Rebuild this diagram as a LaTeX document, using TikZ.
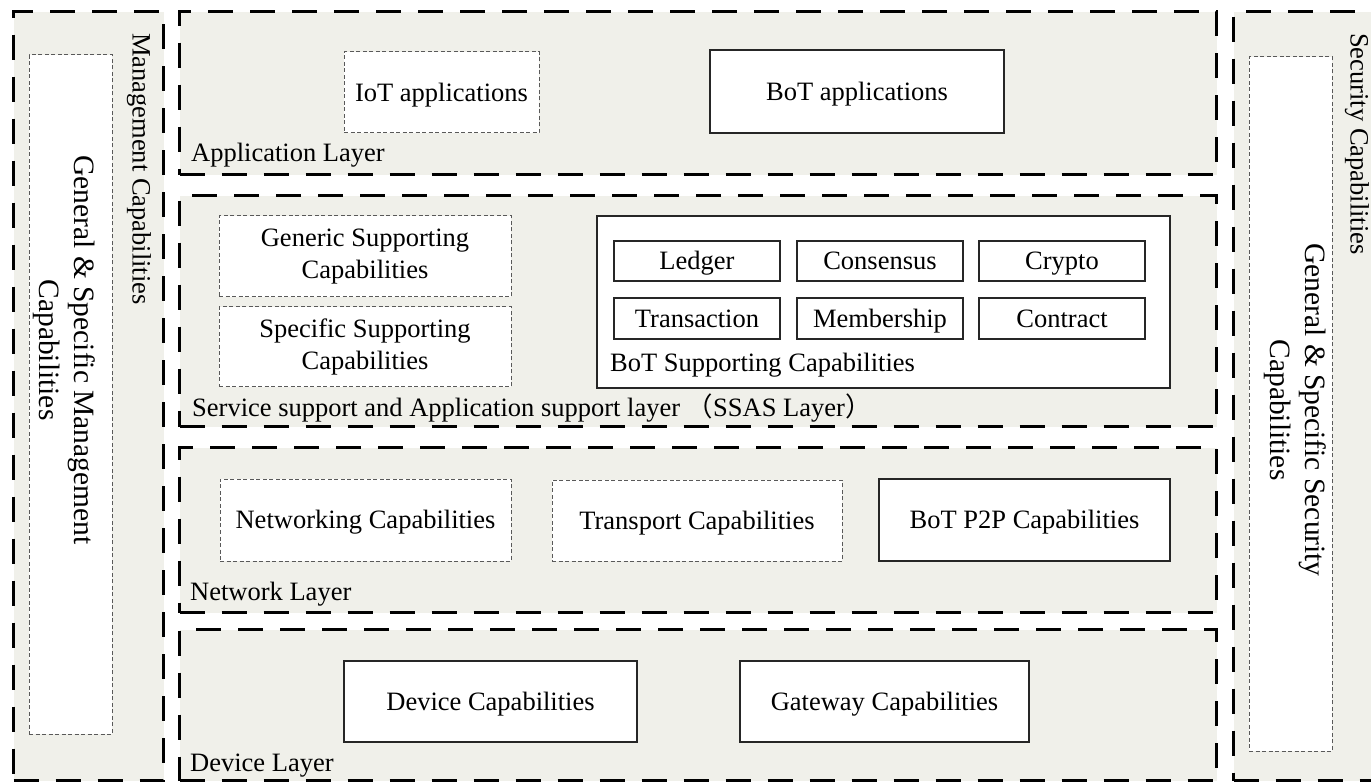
\documentclass[tikz,border=0pt]{standalone}
\usepackage{fontspec}
\setmainfont{Liberation Serif}
\newfontfamily\cjk{Noto Sans CJK SC}
\definecolor{layerfill}{RGB}{240,240,234}
\newcommand\dfont{\fontsize{26.5}{32}\selectfont}
\begin{document}
\begin{tikzpicture}[x=1pt,y=-1pt,
  layerbox/.style={draw=black, line width=3.2pt, dash pattern=on 25pt off 17pt, fill=layerfill, rectangle, inner sep=0pt, anchor=north west},
  dbox/.style={draw=black!65, line width=1pt, dash pattern=on 4pt off 2.5pt, fill=white, rectangle, inner sep=0pt, align=center, font=\dfont},
  sbox/.style={draw=black!85, line width=1.3pt, fill=white, rectangle, inner sep=0pt, align=center, font=\dfont},
  one/.style={text height=22pt, text depth=4.4pt},
  lbl/.style={anchor=base west, inner sep=0pt, font=\dfont},
  vlbl/.style={rotate=-90, anchor=west, inner sep=0pt, font=\dfont},
  vtxt/.style={rotate=-90, align=center, inner sep=0pt, font=\fontsize{29.5}{35}\selectfont},
]
\useasboundingbox (0,0) rectangle (1371,783);
\fill[white] (0,0) rectangle (1371,783);
\clip (0,0) rectangle (1371,783);

% side columns
\node[layerbox, minimum width=150, minimum height=769] (mgmt) at (12,10) {};
\node[layerbox, minimum width=180, minimum height=769] (sec) at (1232,10) {};
% layers
\node[layerbox, minimum width=1037, minimum height=163] (app) at (178,10) {};
\node[layerbox, minimum width=1037, minimum height=231] (ssas) at (178,194) {};
\node[layerbox, minimum width=1037, minimum height=165] (net) at (178,446) {};
\node[layerbox, minimum width=1037, minimum height=151] (dev) at (178,628) {};

% side inner boxes
\node[dbox, minimum width=83, minimum height=679] (mgmtin) at (70.5,394.5) {};
\node[dbox, minimum width=83, minimum height=694] (secin) at (1290.5,404) {};
\node[vtxt] (mgmttxt) at (64,350) {General \& Specific Management\\Capabilities};
\node[vtxt] (sectxt) at (1295,410) {General \& Specific Security\\Capabilities};
\node[vlbl] (mgmtlbl) at (139,33) {Management Capabilities};
\node[vlbl] (seclbl) at (1357,33) {Security Capabilities};

% application layer
\node[dbox, one, minimum width=195, minimum height=81] (iot) at (441.5,92.5) {IoT applications};
\node[sbox, one, minimum width=294, minimum height=83] (botapp) at (857,91.5) {BoT applications};
\node[lbl] (applbl) at (191,162) {Application Layer};

% SSAS layer
\node[dbox, minimum width=292, minimum height=81] (generic) at (365,256.5) {Generic Supporting\\Capabilities};
\node[dbox, minimum width=292, minimum height=80] (specific) at (365,347) {Specific Supporting\\Capabilities};
\node[sbox, minimum width=573, minimum height=172] (botsup) at (883.5,302) {};
\node[sbox, one, minimum width=166, minimum height=40] (ledger) at (697,261) {Ledger};
\node[sbox, one, minimum width=166, minimum height=40] (consensus) at (880,261) {Consensus};
\node[sbox, one, minimum width=166, minimum height=40] (crypto) at (1062,261) {Crypto};
\node[sbox, one, minimum width=166, minimum height=41] (transaction) at (697,318.5) {Transaction};
\node[sbox, one, minimum width=166, minimum height=41] (membership) at (880,318.5) {Membership};
\node[sbox, one, minimum width=166, minimum height=41] (contract) at (1062,318.5) {Contract};
\node[lbl] (botsuplbl) at (610,372) {BoT Supporting Capabilities};
\node[lbl] (ssaslbl) at (192,417) {Service support and Application support layer {\cjk（}SSAS Layer{\cjk）}};

% network layer
\node[dbox, one, minimum width=291, minimum height=82] (networking) at (365.5,520) {Networking Capabilities};
\node[dbox, one, minimum width=290, minimum height=81] (transport) at (697,520.5) {Transport Capabilities};
\node[sbox, one, minimum width=291, minimum height=82] (p2p) at (1024.5,520) {BoT P2P Capabilities};
\node[lbl] (netlbl) at (190,600) {Network Layer};

% device layer
\node[sbox, one, minimum width=293, minimum height=81] (device) at (490.5,701.5) {Device Capabilities};
\node[sbox, one, minimum width=289, minimum height=81] (gateway) at (884.5,701.5) {Gateway Capabilities};
\node[lbl] (devlbl) at (190,771) {Device Layer};
\end{tikzpicture}
\end{document}
